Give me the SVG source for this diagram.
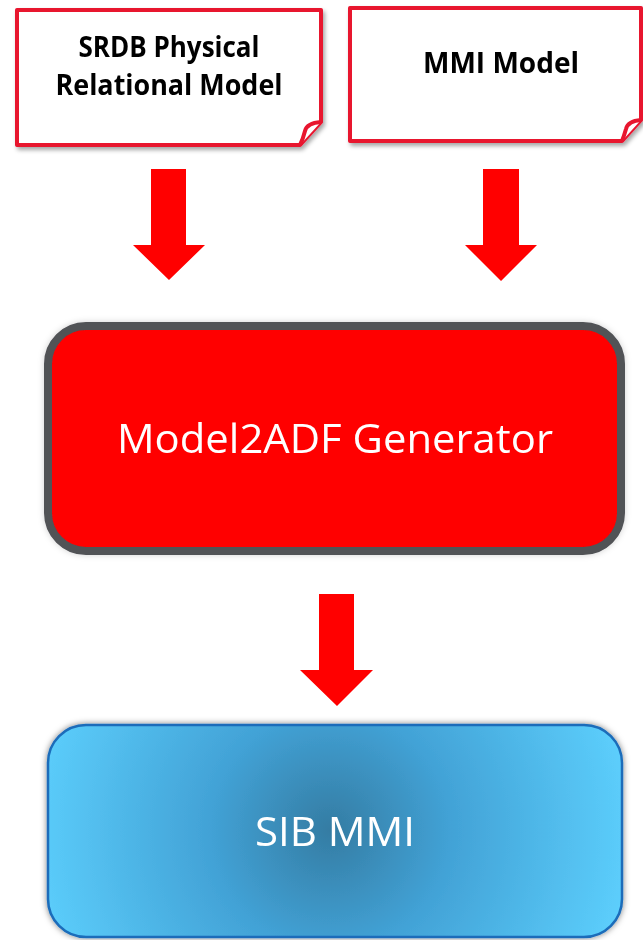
<svg xmlns="http://www.w3.org/2000/svg" width="643" height="940" viewBox="0 0 643 940">
  <style>
    .doc { fill: #ffffff; stroke: #e8132f; stroke-width: 4; stroke-linejoin: round; }
    .curl { fill: #ffffff; stroke: #e8132f; stroke-width: 4; stroke-linejoin: round; }
    .lbl { font-family: "Open Sans", "Liberation Sans", sans-serif; font-weight: bold; fill: #000000; text-anchor: middle; }
    .big { font-family: "Open Sans", "Liberation Sans", sans-serif; fill: #ffffff; text-anchor: middle; }
    .arrow { fill: #ff0000; }
  </style>
  <defs>
    <filter id="docShadow" x="-10%" y="-10%" width="130%" height="130%">
      <feDropShadow dx="2" dy="3" stdDeviation="2" flood-color="#000000" flood-opacity="0.35"/>
    </filter>
    <filter id="glow" x="-10%" y="-10%" width="120%" height="120%">
      <feDropShadow dx="0" dy="0" stdDeviation="3" flood-color="#000000" flood-opacity="0.5"/>
    </filter>
    <filter id="glowLight" x="-10%" y="-10%" width="120%" height="120%">
      <feDropShadow dx="0" dy="0" stdDeviation="3" flood-color="#000000" flood-opacity="0.18"/>
    </filter>
    <radialGradient id="blueGrad" gradientUnits="userSpaceOnUse" cx="330" cy="830" r="300">
      <stop offset="0" stop-color="#347ca3"/>
      <stop offset="0.4" stop-color="#42a2d6"/>
      <stop offset="1" stop-color="#5ccefc"/>
    </radialGradient>
  </defs>

  <g id="srdb-model" filter="url(#docShadow)">
    <path class="doc" d="M17,10 H321 V122 L300,145 H17 Z"/>
    <path class="curl" d="M321,122 Q307,123 305,131 Q303,139 300,145"/>
    <text class="lbl" x="169" y="57" font-size="28" textLength="181" lengthAdjust="spacingAndGlyphs">SRDB Physical</text>
    <text class="lbl" x="169" y="95" font-size="28" textLength="227" lengthAdjust="spacingAndGlyphs">Relational Model</text>
  </g>

  <g id="mmi-model" filter="url(#docShadow)">
    <path class="doc" d="M350,8 H641 V120 L622,141 H350 Z"/>
    <path class="curl" d="M641,120 Q628,121 626,129 Q624,136 622,141"/>
    <text class="lbl" x="501" y="73" font-size="28" textLength="156" lengthAdjust="spacingAndGlyphs">MMI Model</text>
  </g>

  <g id="generator" filter="url(#glowLight)">
    <rect x="48" y="326" width="573" height="225" rx="38" ry="38" fill="#ff0000" stroke="#515256" stroke-width="8"/>
    <text class="big" x="335" y="453" font-size="41" textLength="436" lengthAdjust="spacingAndGlyphs">Model2ADF Generator</text>
  </g>

  <g id="sib-mmi" filter="url(#glow)">
    <rect x="48" y="725" width="574" height="212" rx="38" ry="38" fill="url(#blueGrad)" stroke="#1a6cba" stroke-width="2.5"/>
    <text class="big" x="335" y="846" font-size="40" textLength="160" lengthAdjust="spacingAndGlyphs">SIB MMI</text>
  </g>

  <g id="connectors">
    <path class="arrow" d="M151,169 H186 V245 H205 L169,280 L133,245 H151 Z"/>
    <path class="arrow" d="M483,169 H519 V245 H537 L501,281 L465,245 H483 Z"/>
    <path class="arrow" d="M319,594 H354 V670 H373 L337,706 L300,670 H319 Z"/>
  </g>
</svg>
